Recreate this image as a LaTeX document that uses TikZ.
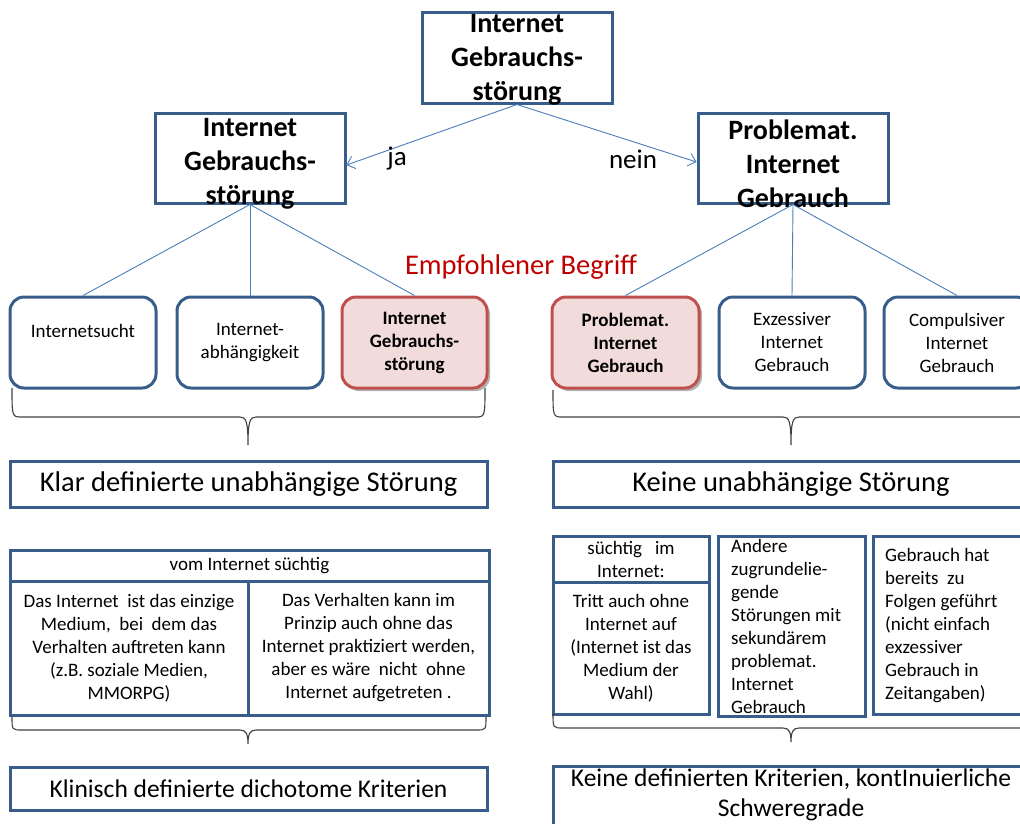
\documentclass[tikz,border=0pt]{standalone}
\usepackage{fontspec}
\setmainfont{Carlito}
\usepackage{tikz}
\usetikzlibrary{arrows.meta,shadows}
\definecolor{rahmen}{HTML}{385D8A}
\definecolor{linie}{HTML}{4A7EBB}
\definecolor{rotrand}{HTML}{C0504D}
\definecolor{rotfill}{HTML}{F2DCDB}
\definecolor{rottext}{HTML}{C00000}
\tikzset{
  kasten/.style={draw=rahmen,line width=3pt,fill=white,inner sep=0pt},
  rund/.style={kasten,rounded corners=14pt},
  empf/.style={rund,draw=rotrand,fill=rotfill,
    drop shadow={shadow xshift=3pt,shadow yshift=-3pt,fill=black,opacity=.3}},
  verb/.style={draw=linie,line width=0.9pt},
  pfeil/.style={verb,-{Straight Barb[length=7pt,width=13pt]}},
  klammerlinie/.style={draw=black!75,line width=1.1pt},
  titel/.style={font=\fontsize{28}{34}\selectfont\bfseries,align=center,inner sep=0pt},
  klein/.style={font=\fontsize{19}{23}\selectfont,align=center,inner sep=0pt},
  gross/.style={font=\fontsize{28.5}{31}\selectfont,align=center,inner sep=0pt},
  mittel/.style={font=\fontsize{25.5}{30}\selectfont,align=center,inner sep=0pt}
}
\newcommand{\klammer}[6]{%
  \draw[klammerlinie] (#1,#4) .. controls (#1,#4+#5) .. (#1+10,#4+#5) -- (#2-8,#4+#5)
    .. controls (#2-2,#4+#5) and (#2,#4+#5+4) .. (#2,#4+#6)
    .. controls (#2,#4+#5+4) and (#2+2,#4+#5) .. (#2+8,#4+#5) -- (#3-10,#4+#5)
    .. controls (#3,#4+#5) .. (#3,#4);}
\begin{document}
\begin{tikzpicture}[x=1pt,y=-1pt]
\useasboundingbox (0,0) rectangle (1020,823);
\clip (0,0) rectangle (1020,823);

\node[kasten,minimum width=190pt,minimum height=91pt] (igs) at (517,57.5) {};
\node[titel] at (517,60) {Internet\\Gebrauchs-\\störung};
\node[kasten,minimum width=190pt,minimum height=90pt] (ja) at (250,158) {};
\node[titel] at (250,164) {Internet\\Gebrauchs-\\störung};
\node[kasten,minimum width=190pt,minimum height=90pt] (nein) at (793,158) {};
\node[titel] at (793,164) {Problemat.\\Internet\\Gebrauch};

\draw[pfeil] (igs.south) -- ([yshift=-7pt]ja.east);
\draw[pfeil] (igs.south) -- ([yshift=-4pt]nein.west);
\node[font=\fontsize{27}{30}\selectfont] (jatext) at (397,159) {ja};
\node[font=\fontsize{27}{30}\selectfont] (neintext) at (633,159) {nein};
\node[font=\fontsize{28.5}{30}\selectfont,text=rottext] (begriff) at (521,267) {Empfohlener Begriff};

\node[rund,minimum width=146pt,minimum height=91pt,klein] (sucht) at (83,342.5) {Internetsucht\\[0pt]~};
\node[rund,minimum width=146pt,minimum height=91pt,klein] (abh) at (250,342.5) {Internet-\\abhängigkeit};
\node[empf,minimum width=145pt,minimum height=91pt,klein,font=\fontsize{19}{23}\selectfont\bfseries] (igs2) at (414.5,342.5) {Internet\\Gebrauchs-\\störung};
\node[empf,minimum width=147pt,minimum height=91pt,klein,font=\fontsize{19}{23}\selectfont\bfseries] (pig) at (625.5,342.5) {Problemat.\\Internet\\Gebrauch};
\node[rund,minimum width=146pt,minimum height=91pt,klein] (exz) at (792,342.5) {Exzessiver\\Internet\\Gebrauch};
\node[rund,minimum width=146pt,minimum height=91pt,klein] (comp) at (957,342.5) {Compulsiver\\Internet\\Gebrauch};

\draw[verb] (ja.south) -- (sucht.north);
\draw[verb] (ja.south) -- (abh.north);
\draw[verb] (ja.south) -- (igs2.north);
\draw[verb] (nein.south) -- (pig.north);
\draw[verb] (nein.south) -- (exz.north);
\draw[verb] (nein.south) -- (comp.north);

\klammer{12}{248}{485}{388}{29}{57}
\klammer{553}{791}{1029}{390}{27}{55}

\node[kasten,minimum width=477pt,minimum height=46pt,gross] (klar) at (248.5,484) {Klar definierte unabhängige Störung};
\node[kasten,minimum width=476pt,minimum height=46pt,gross] (keine) at (791,484) {Keine unabhängige Störung};

\node[kasten,minimum width=479pt,minimum height=31pt,klein] (vom) at (249.5,565.5) {vom Internet süchtig};
\node[kasten,minimum width=238pt,minimum height=134pt,klein] (einzig) at (129,648) {Das Internet\ \ ist das einzige\\Medium,\ \ bei\ \ dem das\\Verhalten auftreten kann\\(z.B. soziale Medien,\\MMORPG)};
\node[kasten,minimum width=241pt,minimum height=134pt,klein] (prinzip) at (368.5,648) {Das Verhalten kann im\\Prinzip auch ohne das\\Internet praktiziert werden,\\aber es wäre\ \ nicht\ \ ohne\\Internet aufgetreten .};

\node[kasten,minimum width=156pt,minimum height=46pt,klein] (suechtig) at (631,559) {süchtig\ \ \ im\\Internet:};
\node[kasten,minimum width=156pt,minimum height=132pt,klein] (tritt) at (631,648) {Tritt auch ohne\\Internet auf\\(Internet ist das\\Medium der\\Wahl)};
\node[kasten,minimum width=147pt,minimum height=180pt] (andere) at (791.5,626) {};
\node[klein,align=left,anchor=west] at (731,626.5) {Andere\\zugrundelie-\\gende\\Störungen mit\\sekundärem\\problemat.\\Internet\\Gebrauch};
\node[kasten,minimum width=152pt,minimum height=178pt] (folgen) at (949,625) {};
\node[klein,align=left,anchor=west] at (885,626) {Gebrauch hat\\bereits\ \ zu\\Folgen geführt\\(nicht einfach\\exzessiver\\Gebrauch in\\Zeitangaben)};

\klammer{12}{248}{486}{717}{13}{27}
\klammer{553}{791}{1029}{713}{15}{29}

\node[kasten,minimum width=477pt,minimum height=43pt,mittel] (klinisch) at (248.5,788.5) {Klinisch definierte dichotome Kriterien};
\node[kasten,minimum width=476pt,minimum height=70pt] (keinekrit) at (791,801) {};
\node[mittel] at (791,795) {Keine definierten Kriterien, kontInuierliche\\Schweregrade};
\end{tikzpicture}
\end{document}
